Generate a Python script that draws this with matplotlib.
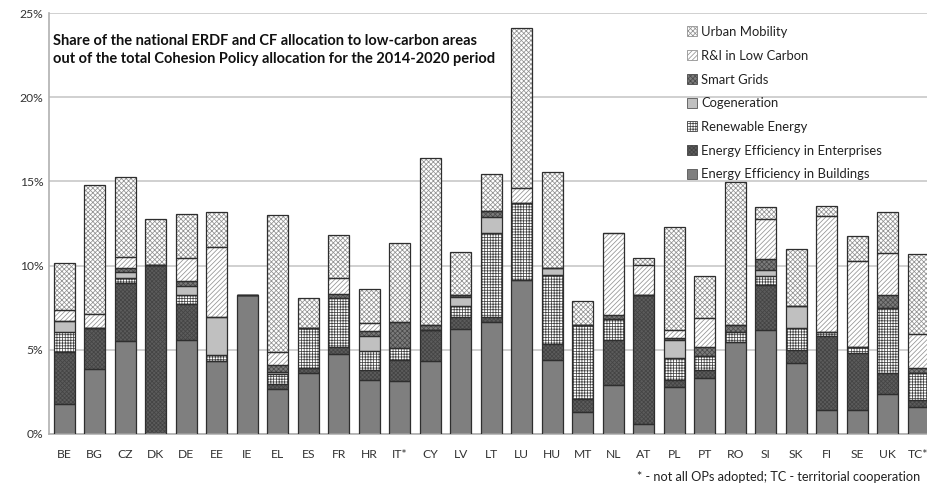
import matplotlib
matplotlib.use("Agg")
import matplotlib.pyplot as plt
from matplotlib.patches import Patch
import numpy as np

countries = ['BE', 'BG', 'CZ', 'DK', 'DE', 'EE', 'IE', 'EL', 'ES', 'FR', 'HR', 'IT*', 'CY', 'LV',
             'LT', 'LU', 'HU', 'MT', 'NL', 'AT', 'PL', 'PT', 'RO', 'SI', 'SK', 'FI', 'SE', 'UK', 'TC*']

ee_buildings = [1.78, 3.86, 5.54, 0.00, 5.58, 4.35, 8.25, 2.67, 3.60, 4.75, 3.21, 3.15, 4.35, 6.22,
                6.63, 9.14, 4.39, 1.33, 2.91, 0.59, 2.81, 3.30, 5.48, 6.18, 4.20, 1.43, 1.43, 2.37, 1.58]
ee_enterprises = [3.11, 2.41, 3.45, 10.04, 2.14, 0.00, 0.00, 0.30, 0.30, 0.43, 0.59, 1.24, 1.85, 0.75,
                  0.30, 0.00, 0.95, 0.73, 2.67, 7.66, 0.40, 0.50, 0.00, 2.67, 0.79, 4.39, 3.40, 1.23, 0.44]
renewable = [1.19, 0.00, 0.25, 0.00, 0.53, 0.34, 0.00, 0.60, 2.37, 2.88, 1.13, 0.70, 0.00, 0.63,
             4.99, 4.56, 4.10, 4.41, 1.24, 0.00, 1.29, 0.83, 0.60, 0.53, 1.28, 0.25, 0.35, 3.86, 1.58]
cogeneration = [0.65, 0.00, 0.40, 0.00, 0.54, 2.28, 0.00, 0.10, 0.00, 0.00, 0.89, 0.00, 0.00, 0.55,
                0.98, 0.00, 0.40, 0.00, 0.00, 0.00, 1.08, 0.00, 0.00, 0.36, 1.33, 0.00, 0.00, 0.00, 0.00]
smart_grids = [0.00, 0.00, 0.20, 0.00, 0.30, 0.00, 0.00, 0.43, 0.05, 0.25, 0.30, 1.54, 0.25, 0.10,
               0.34, 0.00, 0.00, 0.00, 0.25, 0.00, 0.10, 0.52, 0.39, 0.63, 0.00, 0.00, 0.00, 0.79, 0.30]
ri_low_carbon = [0.63, 0.86, 0.69, 0.00, 1.38, 4.11, 0.00, 0.75, 0.00, 0.93, 0.45, 0.00, 0.00, 0.00,
                 0.00, 0.93, 0.00, 0.00, 4.85, 1.79, 0.50, 1.72, 0.00, 2.38, 0.00, 6.87, 5.11, 2.48, 2.02]
urban_mobility = [2.77, 7.66, 4.75, 2.73, 2.58, 2.12, 0.00, 8.15, 1.78, 2.58, 2.02, 4.69, 9.92, 2.58,
                  2.18, 9.46, 5.70, 1.43, 0.00, 0.39, 6.13, 2.51, 8.47, 0.75, 3.37, 0.62, 1.47, 2.43, 4.77]

series_names = ['Energy Efficiency in Buildings', 'Energy Efficiency in Enterprises', 'Renewable Energy',
                'Cogeneration', 'Smart Grids', 'R&I in Low Carbon', 'Urban Mobility']
series = [ee_buildings, ee_enterprises, renewable, cogeneration, smart_grids, ri_low_carbon, urban_mobility]

title_text = ("Share of the national ERDF and CF allocation to low-carbon areas\n"
              "out of the total Cohesion Policy allocation for the 2014-2020 period")
footnote = "* - not all OPs adopted; TC - territorial cooperation"

# styles: (facecolor, hatch, hatchcolor)
styles = [
    ('#7f7f7f', None, '#7f7f7f'),
    ('#5c5c5c', 'xxxxxxxx', '#444444'),
    ('#ffffff', '++++++', '#444444'),
    ('#c0c0c0', None, '#c0c0c0'),
    ('#7c7c7c', 'xxxxxxx', '#4a4a4a'),
    ('#ffffff', '///////', '#939393'),
    ('#ffffff', 'xxxxxxx', '#929292'),
]

plt.rcParams['font.family'] = ['Lato', 'DejaVu Sans']
plt.rcParams['hatch.linewidth'] = 0.55

fig = plt.figure(figsize=(9.28, 4.83), dpi=100)
W, H = 928, 483
ax = fig.add_axes([49 / W, (H - 434) / H, (928 - 49) / W, (434 - 13) / H])

x = np.arange(len(countries))
bw = 0.69
bottom = np.zeros(len(countries))
for vals, (fc, hatch, hc) in zip(series, styles):
    v = np.array(vals)
    ax.bar(x, v, bw, bottom=bottom, color=fc, edgecolor=hc, hatch=hatch, linewidth=0, zorder=2)
    ax.bar(x, v, bw, bottom=bottom, fill=False, edgecolor='#2e2e2e', linewidth=0.9, zorder=3)
    bottom += v

ax.set_xlim(-0.5, (928 - 49) / 30.5 - 0.5)
ax.set_ylim(0, 25)
ax.set_yticks([0, 5, 10, 15, 20, 25])
ax.set_yticklabels(['0%', '5%', '10%', '15%', '20%', '25%'])
ax.set_xticks(x)
ax.set_xticklabels(countries)
ax.tick_params(axis='both', length=0, labelsize=8.7, colors='#333333')
ax.tick_params(axis='x', pad=11)
ax.tick_params(axis='y', pad=4)
ax.yaxis.grid(True, color='#c8c8c8', linewidth=1.2, zorder=0)
ax.set_axisbelow(True)
for s in ['top', 'right']:
    ax.spines[s].set_visible(False)
ax.spines['left'].set_color('#b0b0b0')
ax.spines['bottom'].set_color('#b0b0b0')
ax.spines['left'].set_linewidth(1.2)
ax.spines['bottom'].set_linewidth(1.2)

ax.text(53 / W, 1 - 34 / H, title_text, transform=fig.transFigure, fontsize=10.5,
        fontweight='bold', va='top', ha='left', linespacing=1.4, color='#111111')

handles = [Patch(facecolor=fc, edgecolor=(hc if hatch else '#555555'), hatch=hatch, linewidth=0.6)
           for (fc, hatch, hc) in styles]
leg = fig.legend(handles[::-1], series_names[::-1], loc='upper left',
                 bbox_to_anchor=(687 / W, 1 - 26 / H), frameon=False, fontsize=9.4,
                 handlelength=0.8, handleheight=0.8, handletextpad=0.3, labelspacing=0.9,
                 borderaxespad=0, borderpad=0)
for t in leg.get_texts():
    t.set_color('#222222')

fig.text(637 / W, 1 - 477 / H, footnote, fontsize=9.2, va='center', ha='left', color='#222222')

fig.savefig('out.png', dpi=100)
